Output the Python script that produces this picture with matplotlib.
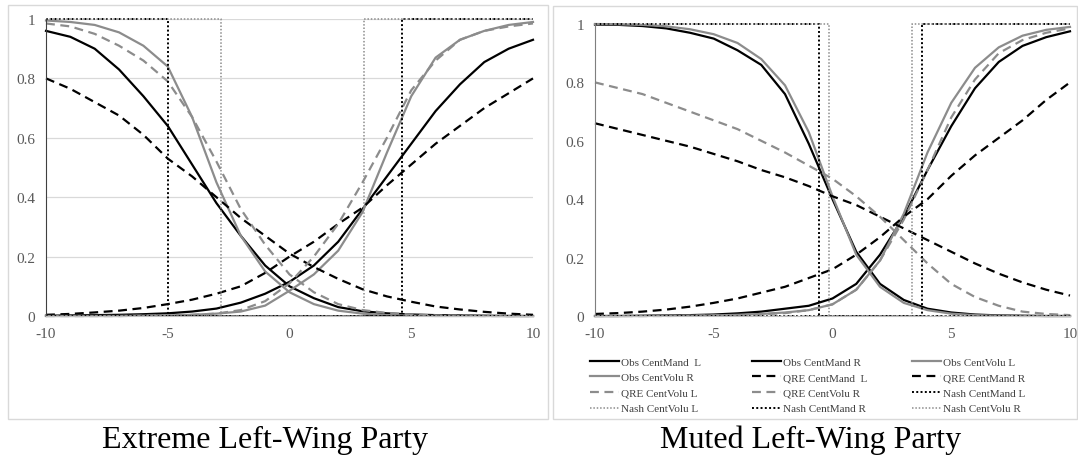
import matplotlib
matplotlib.use("Agg")
import matplotlib.pyplot as plt
from matplotlib.patches import Rectangle

plt.rcParams['font.family'] = ['Liberation Serif', 'DejaVu Serif']

# x grid shared by all curves
x_vals = list(range(-10, 11))

# Extreme left-wing party (left panel)
ext_obs_mand_L = [0.96, 0.94, 0.90, 0.83, 0.74, 0.64, 0.51, 0.38, 0.27, 0.17, 0.10,
                  0.06, 0.03, 0.016, 0.009, 0.005, 0.003, 0.002, 0.001, 0.0, 0.0]
ext_obs_mand_R = [0.001, 0.002, 0.003, 0.004, 0.006, 0.009, 0.015, 0.025, 0.045, 0.075, 0.115,
                  0.17, 0.25, 0.36, 0.47, 0.58, 0.69, 0.78, 0.855, 0.90, 0.93]
ext_obs_volu_L = [0.995, 0.99, 0.98, 0.955, 0.91, 0.84, 0.67, 0.45, 0.27, 0.15, 0.08,
                  0.04, 0.018, 0.008, 0.003, 0.001, 0.0, 0.0, 0.0, 0.0, 0.0]
ext_obs_volu_R = [0.0, 0.0, 0.0, 0.0, 0.001, 0.002, 0.004, 0.008, 0.015, 0.035, 0.085,
                  0.14, 0.22, 0.35, 0.55, 0.74, 0.87, 0.93, 0.96, 0.98, 0.99]
ext_qre_mand_L = [0.80, 0.765, 0.72, 0.675, 0.61, 0.53, 0.47, 0.40, 0.33, 0.27, 0.21,
                  0.165, 0.125, 0.09, 0.066, 0.048, 0.032, 0.022, 0.014, 0.008, 0.004]
ext_qre_mand_R = [0.004, 0.007, 0.012, 0.018, 0.027, 0.04, 0.055, 0.075, 0.10, 0.145, 0.20,
                  0.25, 0.31, 0.365, 0.44, 0.51, 0.58, 0.64, 0.70, 0.75, 0.80]
ext_qre_volu_L = [0.985, 0.975, 0.95, 0.91, 0.86, 0.79, 0.67, 0.52, 0.36, 0.24, 0.14,
                  0.08, 0.04, 0.02, 0.01, 0.005, 0.002, 0.001, 0.0, 0.0, 0.0]
ext_qre_volu_R = [0.0, 0.0, 0.0, 0.0, 0.001, 0.002, 0.004, 0.008, 0.02, 0.05, 0.11,
                  0.20, 0.31, 0.45, 0.60, 0.76, 0.86, 0.93, 0.96, 0.975, 0.985]
# Nash cutoffs (step functions)
ext_nash = {"mand_L": -5.0, "volu_L": -2.8, "mand_R": 4.6, "volu_R": 3.05}

# Muted left-wing party (right panel)
mut_obs_mand_L = [0.998, 0.997, 0.993, 0.985, 0.97, 0.95, 0.91, 0.86, 0.76, 0.59, 0.40,
                  0.22, 0.11, 0.055, 0.025, 0.012, 0.005, 0.002, 0.001, 0.0, 0.0]
mut_obs_mand_R = [0.0, 0.0, 0.001, 0.002, 0.003, 0.005, 0.009, 0.015, 0.025, 0.035, 0.06,
                  0.11, 0.21, 0.34, 0.50, 0.65, 0.78, 0.87, 0.925, 0.955, 0.975]
mut_obs_volu_L = [1.0, 0.999, 0.997, 0.992, 0.982, 0.965, 0.935, 0.88, 0.79, 0.63, 0.41,
                  0.21, 0.10, 0.045, 0.02, 0.008, 0.003, 0.001, 0.0, 0.0, 0.0]
mut_obs_volu_R = [0.0, 0.0, 0.0, 0.001, 0.001, 0.002, 0.004, 0.007, 0.012, 0.02, 0.04,
                  0.09, 0.19, 0.35, 0.56, 0.73, 0.85, 0.92, 0.96, 0.98, 0.99]
mut_qre_mand_L = [0.66, 0.64, 0.62, 0.60, 0.58, 0.555, 0.53, 0.50, 0.475, 0.445, 0.41,
                  0.38, 0.34, 0.30, 0.26, 0.22, 0.18, 0.145, 0.115, 0.09, 0.07]
mut_qre_mand_R = [0.007, 0.01, 0.015, 0.022, 0.032, 0.045, 0.06, 0.08, 0.10, 0.13, 0.16,
                  0.21, 0.27, 0.34, 0.40, 0.48, 0.55, 0.61, 0.67, 0.74, 0.80]
mut_qre_volu_L = [0.80, 0.78, 0.76, 0.73, 0.70, 0.67, 0.64, 0.60, 0.56, 0.515, 0.47,
                  0.41, 0.34, 0.26, 0.18, 0.11, 0.065, 0.035, 0.015, 0.007, 0.003]
mut_qre_volu_R = [0.0, 0.0, 0.0, 0.0, 0.001, 0.002, 0.003, 0.006, 0.01, 0.02, 0.04,
                  0.09, 0.19, 0.33, 0.50, 0.68, 0.81, 0.90, 0.945, 0.97, 0.985]
mut_nash = {"mand_L": -0.55, "volu_L": -0.13, "mand_R": 3.78, "volu_R": 3.36}

labels = ["Obs CentMand  L", "Obs CentMand R", "Obs CentVolu L",
          "Obs CentVolu R", "QRE CentMand  L", "QRE CentMand R",
          "QRE CentVolu L", "QRE CentVolu R", "Nash CentMand L",
          "Nash CentVolu L", "Nash CentMand R", "Nash CentVolu R"]

BLACK = "#000000"
GRAY = "#8c8c8c"
DASH = (0, (4, 2.5))
DOT = (0, (1, 1.2))


def nash_step(cut, left_side):
    xs = [-10, cut, cut, 10]
    ys = [1, 1, 0, 0] if left_side else [0, 0, 1, 1]
    return xs, ys


def draw_panel(ax, obs, qre, nash, grid, spine_col):
    ax.set_xlim(-10, 10)
    ax.set_ylim(0, 1)
    if grid:
        ax.yaxis.grid(True, color="#d9d9d9", lw=0.9)
        ax.set_axisbelow(True)
    handles = {}
    # observed
    handles["Obs CentMand  L"], = ax.plot(x_vals, obs[0], color=BLACK, lw=1.6, clip_on=False)
    handles["Obs CentMand R"], = ax.plot(x_vals, obs[1], color=BLACK, lw=1.6, clip_on=False)
    handles["Obs CentVolu L"], = ax.plot(x_vals, obs[2], color=GRAY, lw=1.6, clip_on=False)
    handles["Obs CentVolu R"], = ax.plot(x_vals, obs[3], color=GRAY, lw=1.6, clip_on=False)
    # QRE
    handles["QRE CentMand  L"], = ax.plot(x_vals, qre[0], color=BLACK, lw=1.6, ls=DASH, clip_on=False)
    handles["QRE CentMand R"], = ax.plot(x_vals, qre[1], color=BLACK, lw=1.6, ls=DASH, clip_on=False)
    handles["QRE CentVolu L"], = ax.plot(x_vals, qre[2], color=GRAY, lw=1.6, ls=DASH, clip_on=False)
    handles["QRE CentVolu R"], = ax.plot(x_vals, qre[3], color=GRAY, lw=1.6, ls=DASH, clip_on=False)
    # Nash
    xs, ys = nash_step(nash["mand_L"], True)
    handles["Nash CentMand L"], = ax.plot(xs, ys, color=BLACK, lw=1.4, ls=DOT, clip_on=False)
    xs, ys = nash_step(nash["volu_L"], True)
    handles["Nash CentVolu L"], = ax.plot(xs, ys, color=GRAY, lw=1.1, ls=DOT, clip_on=False)
    xs, ys = nash_step(nash["mand_R"], False)
    handles["Nash CentMand R"], = ax.plot(xs, ys, color=BLACK, lw=1.4, ls=DOT, clip_on=False)
    xs, ys = nash_step(nash["volu_R"], False)
    handles["Nash CentVolu R"], = ax.plot(xs, ys, color=GRAY, lw=1.1, ls=DOT, clip_on=False)

    ax.set_xticks([-10, -5, 0, 5, 10])
    ax.set_xticklabels(["-10", "-5", "0", "5", "10"])
    ax.set_yticks([0, 0.2, 0.4, 0.6, 0.8, 1])
    ax.set_yticklabels(["0", "0.2", "0.4", "0.6", "0.8", "1"])
    ax.tick_params(length=0, labelsize=11, labelcolor="#595959", pad=8)
    for s in ["top", "right"]:
        ax.spines[s].set_visible(False)
    ax.spines["left"].set_color(spine_col)
    ax.spines["bottom"].set_color("#bfbfbf")
    return handles


fig = plt.figure(figsize=(10.78, 4.56), dpi=100)

# panel frames
fig.patches.append(Rectangle((8 / 1078, 1 - 420 / 456), 540 / 1078, 414 / 456,
                             transform=fig.transFigure, fill=False, ec="#d9d9d9", lw=1))
fig.patches.append(Rectangle((553 / 1078, 1 - 420 / 456), 524 / 1078, 413 / 456,
                             transform=fig.transFigure, fill=False, ec="#d9d9d9", lw=1))

ax1 = fig.add_axes([46 / 1078, 1 - 317 / 456, 487 / 1078, 297 / 456])
draw_panel(ax1,
           [ext_obs_mand_L, ext_obs_mand_R, ext_obs_volu_L, ext_obs_volu_R],
           [ext_qre_mand_L, ext_qre_mand_R, ext_qre_volu_L, ext_qre_volu_R],
           ext_nash, grid=True, spine_col="#404040")

ax2 = fig.add_axes([595 / 1078, 1 - 317 / 456, 475 / 1078, 292 / 456])
h = draw_panel(ax2,
               [mut_obs_mand_L, mut_obs_mand_R, mut_obs_volu_L, mut_obs_volu_R],
               [mut_qre_mand_L, mut_qre_mand_R, mut_qre_volu_L, mut_qre_volu_R],
               mut_nash, grid=False, spine_col="#7f7f7f")

# one legend per column so the columns sit evenly like the Excel legend
ncol = 3
col_x = [590, 752, 912]
for c in range(ncol):
    keys = labels[c::ncol]
    fig.legend([h[k] for k in keys], keys, loc="upper left",
               bbox_to_anchor=(col_x[c] / 1078, 1 - 358 / 456), frameon=False,
               fontsize=8, handlelength=2.6, handletextpad=0.15,
               labelspacing=0.52, borderpad=0, borderaxespad=0, labelcolor="#404040")

fig.text(265 / 1078, 1 - 440 / 456, "Extreme Left-Wing Party", ha="center", va="center", fontsize=23)
fig.text(811 / 1078, 1 - 440 / 456, "Muted Left-Wing Party", ha="center", va="center", fontsize=23)

fig.savefig("out.png", dpi=100)
